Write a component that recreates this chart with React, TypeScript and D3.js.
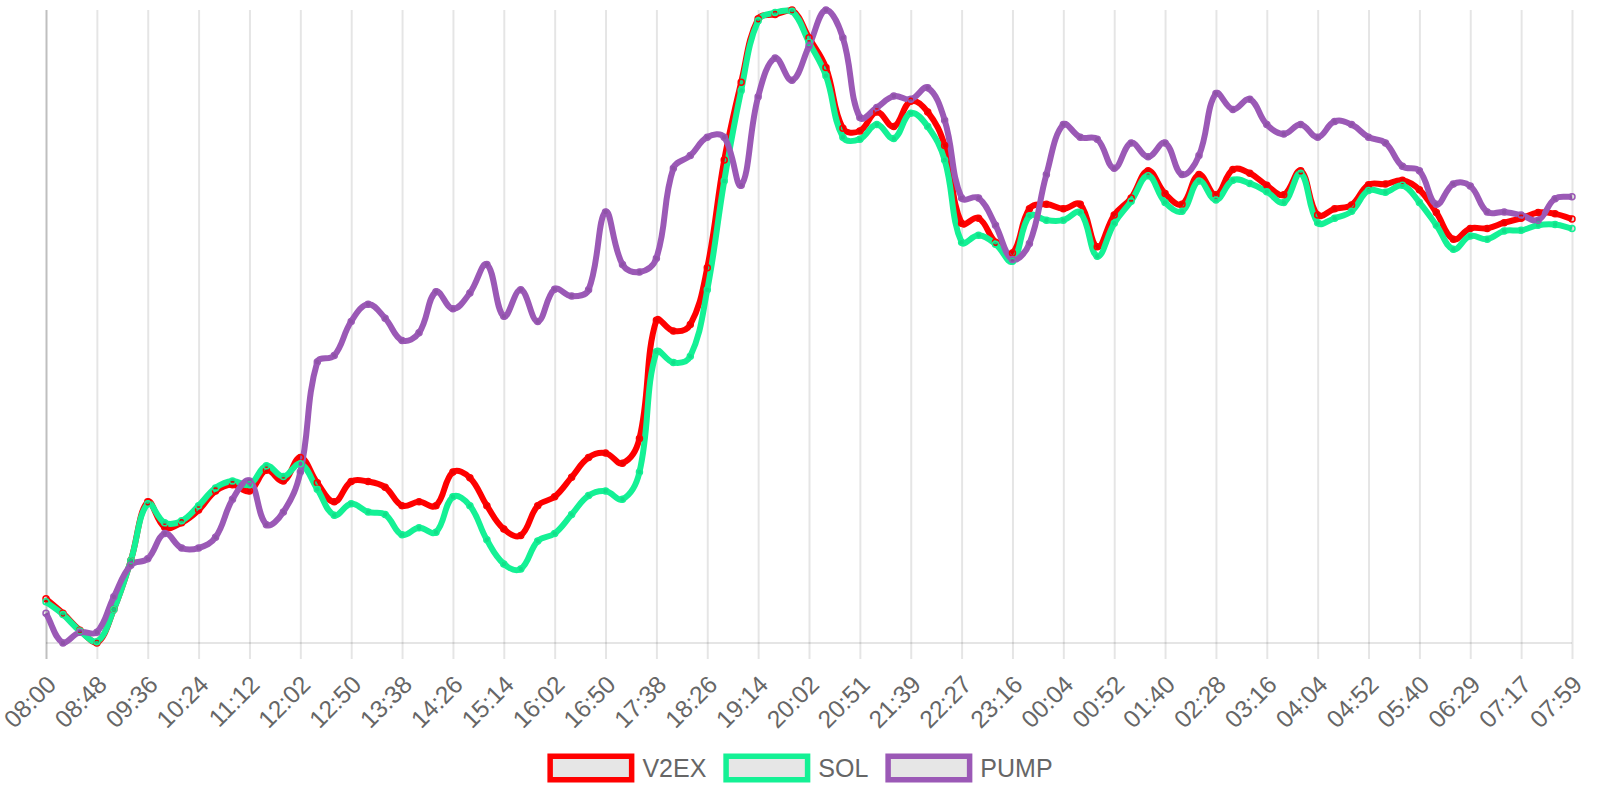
import React, { useEffect, useRef } from 'react';
import * as d3 from 'd3';

// tick labels shown on the x axis (one every 3 samples, 16 min apart)
const tickLabels = [
  '08:00', '08:48', '09:36', '10:24', '11:12', '12:02', '12:50', '13:38', '14:26', '15:14',
  '16:02', '16:50', '17:38', '18:26', '19:14', '20:02', '20:51', '21:39', '22:27', '23:16',
  '00:04', '00:52', '01:40', '02:28', '03:16', '04:04', '04:52', '05:40', '06:29', '07:17', '07:59',
];

const v2exValues = [
  7.0, 4.7, 2.0, 0.0, 5.3, 13.0, 22.3, 18.3, 19.0, 21.0,
  24.0, 25.0, 24.0, 27.3, 25.6, 29.3, 25.3, 22.3, 25.5, 25.5,
  24.6, 21.7, 22.3, 21.7, 27.0, 26.1, 21.7, 18.0, 17.0, 21.7,
  23.1, 26.2, 29.3, 30.0, 28.4, 32.3, 51.0, 49.3, 50.3, 59.3,
  76.3, 88.6, 98.6, 99.3, 100.0, 95.6, 90.9, 81.3, 80.9, 83.9,
  81.6, 85.6, 83.9, 78.6, 66.3, 67.1, 63.3, 61.6, 68.6, 69.3,
  68.6, 69.3, 62.6, 67.6, 70.3, 74.6, 71.0, 69.3, 74.0, 70.8,
  74.8, 74.2, 72.3, 70.8, 74.6, 67.6, 68.6, 69.2, 72.4, 72.5,
  73.1, 71.6, 68.0, 63.8, 65.5, 65.5, 66.4, 67.1, 68.0, 67.8,
  67.0,
];

const solValues = [
  6.5, 4.5, 1.9, 0.2, 5.3, 13.0, 22.0, 19.0, 19.3, 21.7,
  24.5, 25.6, 25.0, 28.0, 26.3, 28.3, 24.3, 20.2, 22.0, 20.7,
  20.3, 17.1, 18.2, 17.5, 23.1, 21.7, 16.3, 12.5, 11.7, 16.1,
  17.3, 20.3, 23.3, 24.0, 22.7, 27.0, 46.0, 44.3, 45.3, 55.8,
  73.0, 87.3, 98.3, 99.6, 99.8, 94.9, 89.6, 79.9, 79.6, 81.9,
  79.7, 83.7, 81.6, 76.3, 63.3, 64.4, 63.0, 60.3, 67.5, 66.8,
  66.8, 68.0, 61.1, 66.3, 69.8, 73.8, 69.6, 68.2, 73.0, 70.0,
  73.1, 72.6, 71.3, 69.6, 74.2, 66.4, 67.1, 68.2, 71.5, 71.2,
  72.3, 69.6, 66.0, 62.2, 64.3, 63.8, 65.1, 65.2, 66.0, 66.1,
  65.5,
];

const pumpValues = [
  4.7, 0.0, 1.7, 1.7, 7.3, 12.3, 13.3, 17.3, 15.0, 15.0,
  16.7, 22.7, 25.6, 18.7, 20.7, 27.0, 44.4, 45.4, 50.8, 53.5,
  51.3, 47.8, 49.0, 55.5, 52.8, 55.3, 59.8, 51.6, 55.8, 50.8,
  55.9, 54.8, 55.8, 68.1, 59.8, 58.6, 60.8, 75.0, 77.0, 79.9,
  79.9, 72.3, 86.3, 92.4, 88.9, 94.3, 100.0, 95.6, 83.0, 84.6,
  86.4, 85.9, 87.7, 82.6, 70.3, 70.3, 66.0, 60.6, 63.1, 74.0,
  81.9, 79.9, 79.6, 75.0, 79.0, 76.8, 79.0, 74.0, 77.0, 86.8,
  84.3, 85.9, 81.9, 80.4, 81.9, 79.9, 82.4, 81.9, 79.9, 79.0,
  75.3, 74.6, 69.3, 72.5, 72.2, 68.1, 68.1, 67.6, 66.8, 70.2,
  70.5,
];

const seriesNames = ['V2EX', 'SOL', 'PUMP'];
const seriesColors = ['#ff0000', '#14f195', '#9b59b6'];
const seriesValues = [v2exValues, solValues, pumpValues];

// Chart.js style bezier (tension 0.4, control points capped to the chart area)
const chartJsCurve = (area: { left: number; right: number; top: number; bottom: number }) =>
  (context: any) => {
    let pts: number[][] = [];
    return {
      areaStart() {},
      areaEnd() {},
      lineStart() { pts = []; },
      point(x: number, y: number) { pts.push([+x, +y]); },
      lineEnd() {
        if (!pts.length) return;
        const t = 0.4;
        const cap = (p: number[]) => [
          Math.max(area.left, Math.min(area.right, p[0])),
          Math.max(area.top, Math.min(area.bottom, p[1])),
        ];
        const cps = pts.map((cur, i) => {
          const prev = pts[i - 1] || cur;
          const next = pts[i + 1] || cur;
          const d01 = Math.hypot(cur[0] - prev[0], cur[1] - prev[1]);
          const d12 = Math.hypot(next[0] - cur[0], next[1] - cur[1]);
          let s01 = d01 / (d01 + d12);
          let s12 = d12 / (d01 + d12);
          if (isNaN(s01)) s01 = 0;
          if (isNaN(s12)) s12 = 0;
          const fa = t * s01;
          const fb = t * s12;
          return {
            prev: cap([cur[0] - fa * (next[0] - prev[0]), cur[1] - fa * (next[1] - prev[1])]),
            next: cap([cur[0] + fb * (next[0] - prev[0]), cur[1] + fb * (next[1] - prev[1])]),
          };
        });
        context.moveTo(pts[0][0], pts[0][1]);
        for (let i = 1; i < pts.length; i++) {
          const a = cps[i - 1].next;
          const b = cps[i].prev;
          context.bezierCurveTo(a[0], a[1], b[0], b[1], pts[i][0], pts[i][1]);
        }
      },
    };
  };

const App = () => {
  const ref = useRef<SVGSVGElement>(null);

  useEffect(() => {
    if (!ref.current) return;
    const svg = d3.select(ref.current);
    svg.selectAll('*').remove();

    const font = '"Liberation Sans", Arial, Helvetica, sans-serif';
    const area = { left: 46, right: 1572, top: 10, bottom: 643 };
    const n = v2exValues.length;

    const x = d3.scaleLinear().domain([0, n - 1]).range([area.left, area.right]);
    const y = d3.scaleLinear().domain([0, 100]).range([area.bottom, area.top]);

    // x axis with full-height grid lines
    const tickIdx = tickLabels.map((_, k) => k * 3);
    const axis = svg.append('g')
      .attr('transform', `translate(0,${area.bottom})`)
      .call(
        d3.axisBottom(x)
          .tickValues(tickIdx)
          .tickFormat((d: any) => tickLabels[d / 3])
          .tickSizeOuter(0)
      );
    axis.select('.domain').remove();
    axis.selectAll('.tick line')
      .attr('y1', 16)
      .attr('y2', area.top - area.bottom)
      .attr('stroke', (d: any) => (d === 0 ? 'rgba(0,0,0,0.25)' : 'rgba(0,0,0,0.1)'))
      .attr('stroke-width', 2);
    axis.selectAll('.tick text')
      .attr('fill', '#666')
      .attr('font-family', font)
      .attr('font-size', 24.5)
      .attr('text-anchor', 'end')
      .attr('dy', '0.35em')
      .attr('y', 0)
      .attr('transform', 'translate(5,37) rotate(-45)');

    // bottom border of x axis
    svg.append('line')
      .attr('x1', area.left).attr('x2', area.right)
      .attr('y1', area.bottom).attr('y2', area.bottom)
      .attr('stroke', 'rgba(0,0,0,0.1)')
      .attr('stroke-width', 2);

    const line = d3.line<number>()
      .x((_, i) => x(i))
      .y(d => y(d))
      .curve(chartJsCurve(area) as any);

    seriesValues.forEach((vals, s) => {
      svg.append('path')
        .datum(vals)
        .attr('fill', 'none')
        .attr('stroke', seriesColors[s])
        .attr('stroke-width', 6)
        .attr('stroke-linejoin', 'round')
        .attr('d', line);
    });

    seriesValues.forEach((vals, s) => {
      svg.append('g')
        .selectAll('circle')
        .data(vals)
        .join('circle')
        .attr('cx', (_, i) => x(i))
        .attr('cy', d => y(d))
        .attr('r', 3)
        .attr('fill', 'rgba(0,0,0,0.08)')
        .attr('stroke', seriesColors[s])
        .attr('stroke-width', 1.5);
    });

    // legend
    const legend = svg.append('g').attr('transform', 'translate(0,768)');
    const boxW = 87;
    const boxH = 29;
    const bw = 5.5;
    const gapText = 8;
    const gapItem = 17;
    const items = legend.selectAll('g.item')
      .data(seriesNames)
      .join('g')
      .attr('class', 'item');
    items.append('rect')
      .attr('x', bw / 2).attr('y', -boxH / 2 + bw / 2)
      .attr('width', boxW - bw).attr('height', boxH - bw)
      .attr('fill', '#e6e6e6')
      .attr('stroke', (_, i) => seriesColors[i])
      .attr('stroke-width', bw);
    items.append('text')
      .attr('x', boxW + gapText)
      .attr('dy', '0.35em')
      .attr('fill', '#666')
      .attr('font-family', font)
      .attr('font-size', 25)
      .text(d => d);

    let cursor = 0;
    const widths: number[] = [];
    items.each(function () {
      const t = d3.select(this).select('text').node() as SVGTextElement;
      widths.push(boxW + gapText + t.getComputedTextLength());
    });
    const total = d3.sum(widths) + gapItem * (widths.length - 1);
    const start = 800 - total / 2;
    items.attr('transform', (_, i) => {
      const tx = start + cursor;
      cursor += widths[i] + gapItem;
      return `translate(${tx},0)`;
    });
  }, []);

  return (
    <svg
      ref={ref}
      width={1600}
      height={800}
      style={{ position: 'absolute', left: 0, top: 0, background: '#fff' }}
    />
  );
};

export default App;
